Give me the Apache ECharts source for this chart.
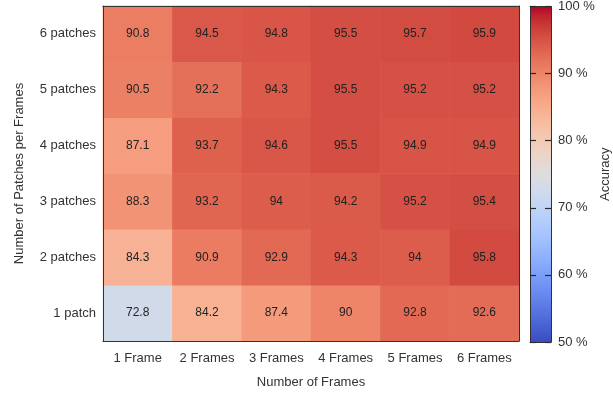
<!DOCTYPE html>
<html>
<head>
<meta charset="utf-8">
<script src="https://cdn.jsdelivr.net/npm/echarts@6/dist/echarts.min.js"></script>
<style>
html,body{margin:0;padding:0;background:#fff;}
#main{width:613px;height:394px;}
</style>
</head>
<body>
<div id="main"></div>
<script>
var frames = ['1 Frame', '2 Frames', '3 Frames', '4 Frames', '5 Frames', '6 Frames'];
var patches = ['1 patch', '2 patches', '3 patches', '4 patches', '5 patches', '6 patches'];
// rows: bottom (1 patch) to top (6 patches)
var row1 = [72.8, 84.2, 87.4, 90, 92.8, 92.6];
var row2 = [84.3, 90.9, 92.9, 94.3, 94, 95.8];
var row3 = [88.3, 93.2, 94, 94.2, 95.2, 95.4];
var row4 = [87.1, 93.7, 94.6, 95.5, 94.9, 94.9];
var row5 = [90.5, 92.2, 94.3, 95.5, 95.2, 95.2];
var row6 = [90.8, 94.5, 94.8, 95.5, 95.7, 95.9];
var colorbarMin = 50, colorbarMax = 100, colorbarStep = 10;

var rows = [row1, row2, row3, row4, row5, row6];
var data = [];
rows.forEach(function (r, yi) {
  r.forEach(function (v, xi) { data.push([xi, yi, v]); });
});

var coolwarm = ['#3b4cc0','#445acc','#4d68d7','#5775e1','#6282ea','#6c8ef1','#779af7','#82a5fb',
  '#8db0fe','#98b9ff','#a3c2ff','#aec9fd','#b8d0f9','#c2d5f4','#ccd9ee','#d5dbe6','#dddddd',
  '#e5d8d1','#ecd3c5','#f1ccb8','#f5c4ac','#f7bb9f','#f7b193','#f7a686','#f49a7b','#f18d6f',
  '#ec7f63','#e57059','#de604d','#d55044','#cb3e38','#c0282f','#b40426'];

// colorbar gradient: top = max
var stops = coolwarm.map(function (c, i) {
  return {offset: 1 - i / (coolwarm.length - 1), color: c};
}).reverse();
var barGradient = new echarts.graphic.LinearGradient(0, 0, 0, 1, stops);

var lineStyle = {color: '#333', width: 1};
var cbLine = {show: true, onZero: false, lineStyle: lineStyle};
var cbTick = {show: true, inside: true, length: 6, lineStyle: {color: '#2a2a2a', width: 1.2}};
var chart = echarts.init(document.getElementById('main'));
chart.setOption({
  animation: false,
  textStyle: {fontFamily: 'Liberation Sans, Arial, sans-serif'},
  grid: [
    {left: 103, top: 6, width: 416, height: 336},
    {left: 530, top: 6, width: 21, height: 336, show: true, backgroundColor: barGradient, borderWidth: 0}
  ],
  xAxis: [
    {type: 'category', gridIndex: 0, data: frames, position: 'bottom', z: 10,
     axisLine: {show: true, lineStyle: lineStyle}, axisTick: {show: false},
     axisLabel: {fontSize: 13, color: '#333', margin: 11, interval: 0},
     name: 'Number of Frames', nameLocation: 'middle', nameGap: 35,
     nameTextStyle: {fontSize: 13, color: '#333'}},
    {type: 'category', gridIndex: 0, data: frames, position: 'top', z: 10,
     axisLine: {show: true, lineStyle: lineStyle}, axisTick: {show: false}, axisLabel: {show: false}},
    {type: 'value', gridIndex: 1, min: 0, max: 1, position: 'bottom', z: 10,
     axisLine: cbLine, axisTick: {show: false}, axisLabel: {show: false}, splitLine: {show: false}},
    {type: 'value', gridIndex: 1, min: 0, max: 1, position: 'top', z: 10,
     axisLine: cbLine, axisTick: {show: false}, axisLabel: {show: false}, splitLine: {show: false}}
  ],
  yAxis: [
    {type: 'category', gridIndex: 0, data: patches, position: 'left', z: 10,
     axisLine: {show: true, lineStyle: lineStyle}, axisTick: {show: false},
     axisLabel: {fontSize: 13, color: '#333', margin: 7, interval: 0},
     name: 'Number of Patches per Frames', nameLocation: 'middle', nameGap: 77,
     nameTextStyle: {fontSize: 13, color: '#333'}},
    {type: 'category', gridIndex: 0, data: patches, position: 'right', z: 10,
     axisLine: {show: true, lineStyle: lineStyle}, axisTick: {show: false}, axisLabel: {show: false}},
    {type: 'value', gridIndex: 1, min: colorbarMin, max: colorbarMax, interval: colorbarStep, position: 'right', z: 10,
     axisLine: cbLine, axisTick: cbTick,
     axisLabel: {fontSize: 13, color: '#333', margin: 7, formatter: '{value} %'},
     splitLine: {show: false},
     name: 'Accuracy', nameLocation: 'middle', nameGap: 34, nameRotate: 90,
     nameTextStyle: {fontSize: 13, color: '#333'}},
    {type: 'value', gridIndex: 1, min: colorbarMin, max: colorbarMax, interval: colorbarStep, position: 'left', z: 10,
     axisLine: cbLine, axisTick: cbTick,
     axisLabel: {show: false}, splitLine: {show: false}}
  ],
  visualMap: {
    show: false, type: 'continuous', min: colorbarMin, max: colorbarMax,
    seriesIndex: 0, inRange: {color: coolwarm}
  },
  series: [{
    type: 'heatmap', xAxisIndex: 0, yAxisIndex: 0, data: data,
    label: {show: true, fontSize: 12, color: '#222'},
    itemStyle: {borderWidth: 0}
  }]
});
</script>
</body>
</html>
